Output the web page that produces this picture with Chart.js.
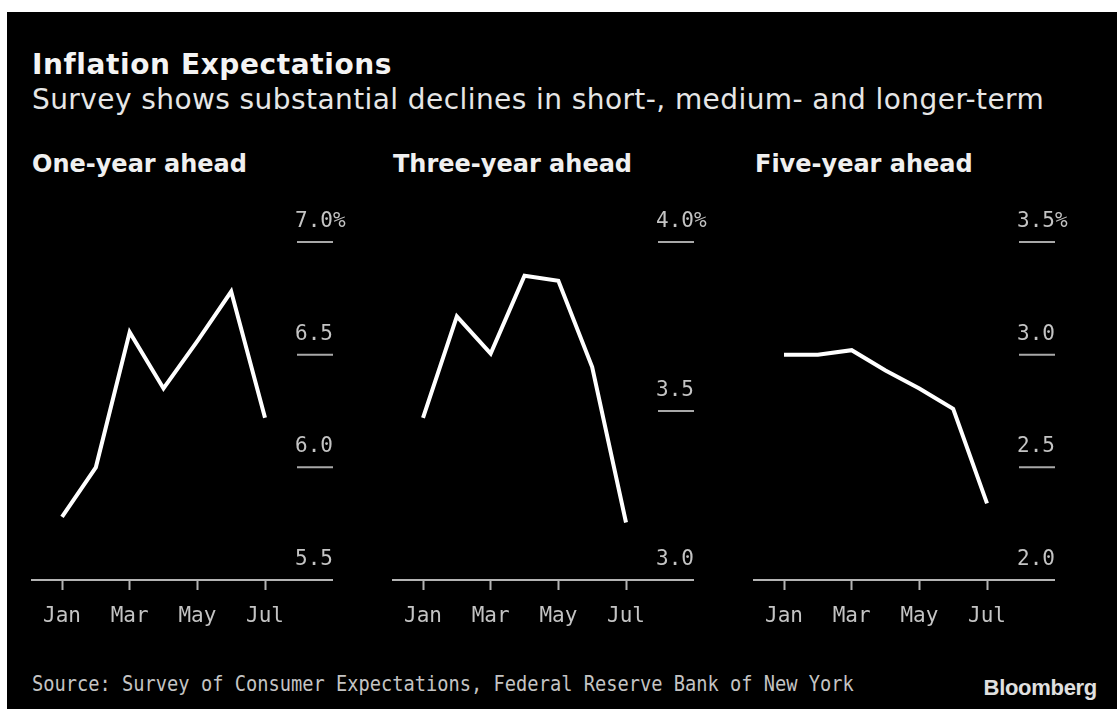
<!DOCTYPE html>
<html>
<head>
<meta charset="utf-8">
<script src="https://cdn.jsdelivr.net/npm/chart.js@4.4.1/dist/chart.umd.min.js"></script>
<style>
  html, body { margin: 0; padding: 0; background: #fff; }
  #frame { position: absolute; left: 7px; top: 12px; width: 1110px; height: 697px; background: #000; overflow: hidden; }
  .txt { position: absolute; white-space: nowrap; }
  #title { left: 25px; top: 39px; font: bold 28px/28px "DejaVu Sans"; letter-spacing: 0.6px; color: #f4f4f4; }
  #subtitle { left: 25px; top: 74px; font: 28px/28px "DejaVu Sans"; letter-spacing: 0.42px; color: #e6e6e6; }
  .panel-title { top: 140px; font: bold 24px/24px "DejaVu Sans"; color: #f0f0f0; }
  #source { left: 25px; top: 661px; font: 22px/22px "DejaVu Sans Mono"; color: #c4c4c4; transform-origin: 0 0; transform: scaleX(0.85); }
  #brand { right: 20px; top: 665px; font: bold 22px/22px "Liberation Sans"; color: #e0e0e0; letter-spacing: -0.3px; }
  canvas { position: absolute; }
</style>
</head>
<body>
<div id="frame">
  <div class="txt" id="title">Inflation Expectations</div>
  <div class="txt" id="subtitle">Survey shows substantial declines in short-, medium- and longer-term</div>
  <div class="txt panel-title" style="left:25px">One-year ahead</div>
  <div class="txt panel-title" style="left:386px">Three-year ahead</div>
  <div class="txt panel-title" style="left:748px">Five-year ahead</div>
  <canvas id="oneYearChart" width="350" height="440" style="left:5px; top:178px"></canvas>
  <canvas id="threeYearChart" width="350" height="440" style="left:366px; top:178px"></canvas>
  <canvas id="fiveYearChart" width="350" height="440" style="left:727px; top:178px"></canvas>
  <div class="txt" id="source">Source: Survey of Consumer Expectations, Federal Reserve Bank of New York</div>
  <div class="txt" id="brand">Bloomberg</div>
</div>
<script>
// monthly survey medians, Jan to Jul
const months = ['Jan', 'Feb', 'Mar', 'Apr', 'May', 'Jun', 'Jul'];
const monthTicks = [0, 2, 4, 6];

const oneYear = [5.78, 6.0, 6.6, 6.35, 6.56, 6.78, 6.22];
const threeYear = [3.48, 3.78, 3.67, 3.9, 3.885, 3.63, 3.17];
const fiveYear = [3.0, 3.0, 3.02, 2.93, 2.85, 2.76, 2.34];

const oneYearTicks = [5.5, 6.0, 6.5, 7.0];
const threeYearTicks = [3.0, 3.5, 4.0];
const fiveYearTicks = [2.0, 2.5, 3.0, 3.5];

const oneYearLabels = ['5.5', '6.0', '6.5', '7.0%'];
const threeYearLabels = ['3.0', '3.5', '4.0%'];
const fiveYearLabels = ['2.0', '2.5', '3.0', '3.5%'];

Chart.defaults.font.family = 'DejaVu Sans Mono';
Chart.defaults.font.size = 21;
Chart.defaults.color = '#c4c4c4';

// value labels sit above a short rule on the right edge of the plot
const yLabels = {
  id: 'yLabels',
  afterDraw(chart, args, opts) {
    const { ctx, chartArea, scales } = chart;
    const right = chartArea.right + 1;
    ctx.save();
    ctx.font = '21px "DejaVu Sans Mono"';
    ctx.fillStyle = '#c4c4c4';
    ctx.strokeStyle = '#a8a8a8';
    ctx.lineWidth = 2;
    ctx.textBaseline = 'alphabetic';
    opts.ticks.forEach((v, i) => {
      const py = scales.y.getPixelForValue(v);
      if (i > 0) {
        ctx.beginPath();
        ctx.moveTo(right - 36, py);
        ctx.lineTo(right, py);
        ctx.stroke();
      }
      const label = opts.labels[i];
      const num = label.replace('%', '');
      ctx.textAlign = 'right';
      ctx.fillText(num, right, py - 15);
      if (label.endsWith('%')) {
        ctx.textAlign = 'left';
        ctx.fillText('%', right, py - 15);
      }
    });
    ctx.restore();
  }
};

function makePanel(id, values, ticks, labels) {
  new Chart(document.getElementById(id), {
    type: 'line',
    data: {
      datasets: [{
        data: values.map((v, i) => ({ x: i, y: v })),
        borderColor: '#ffffff',
        borderWidth: 4,
        borderJoinStyle: 'miter',
        pointRadius: 0,
        tension: 0
      }]
    },
    options: {
      responsive: false,
      animation: false,
      layout: { padding: { left: 20, right: 30, top: 52, bottom: 0 } },
      scales: {
        x: {
          type: 'linear',
          min: -0.887,
          max: 7.98,
          afterBuildTicks: (scale) => { scale.ticks = monthTicks.map(v => ({ value: v })); },
          afterFit: (scale) => { scale.height = 50; },
          ticks: {
            autoSkip: false,
            maxRotation: 0,
            padding: 14,
            color: '#c4c4c4',
            callback: (v) => months[v]
          },
          grid: {
            drawOnChartArea: false,
            tickLength: 10,
            tickWidth: 2,
            tickColor: '#b4b4b4'
          },
          border: { display: true, color: '#b4b4b4', width: 2 }
        },
        y: {
          display: false,
          min: ticks[0],
          max: ticks[ticks.length - 1]
        }
      },
      plugins: {
        legend: { display: false },
        tooltip: { enabled: false },
        yLabels: { ticks: ticks, labels: labels }
      }
    },
    plugins: [yLabels]
  });
}

makePanel('oneYearChart', oneYear, oneYearTicks, oneYearLabels);
makePanel('threeYearChart', threeYear, threeYearTicks, threeYearLabels);
makePanel('fiveYearChart', fiveYear, fiveYearTicks, fiveYearLabels);
</script>
</body>
</html>
